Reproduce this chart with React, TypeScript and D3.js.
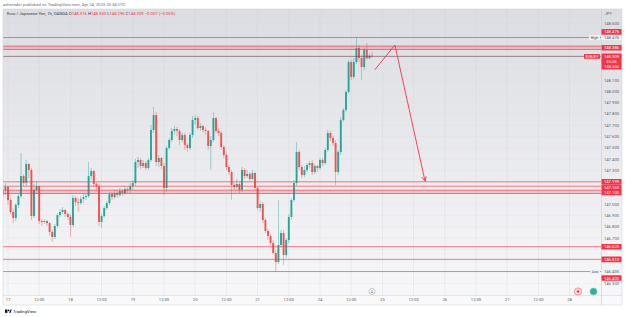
import React from "react";
import * as d3 from "d3";

// EURJPY 1h (OANDA). Bar 0 = Sun 16 Apr 22:00 UTC, one bar per hour, weekend gap removed
const firstOpen = 147.082;
const highs = [
  147.171, 147.188, 147.162, 147.056, 146.967, 147.011, 147.091, 147.454, 147.268, 147.392,
  147.365, 147.321, 147.18, 147.206, 147.162, 146.87, 146.87, 146.861, 146.843, 146.773,
  146.826, 146.923, 146.958, 146.976, 146.958, 146.932, 146.905, 147.082, 147.073, 147.056,
  147.073, 147.091, 147.1, 147.374, 147.321, 147.304, 147.197, 147.18, 146.914, 146.985,
  147.029, 147.109, 147.109, 147.127, 147.118, 147.144, 147.135, 147.162, 147.153, 147.188,
  147.215, 147.401, 147.419, 147.41, 147.392, 147.383, 147.41, 147.702, 147.861, 147.817,
  147.436, 147.419, 147.365, 147.516, 147.587, 147.675, 147.693, 147.684, 147.666, 147.631,
  147.631, 147.543, 147.631, 147.781, 147.79, 147.781, 147.719, 147.702, 147.684, 147.658,
  147.604, 147.817, 147.775, 147.675, 147.649, 147.525, 147.454, 147.348, 147.304, 147.188,
  147.224, 147.197, 147.33, 147.321, 147.304, 147.286, 147.304, 147.286, 147.162, 147.029,
  147.02, 146.879, 146.781, 146.737, 146.684, 146.596, 147.038, 146.773, 146.773, 146.702,
  146.914, 147.056, 147.215, 147.551, 147.481, 147.348, 147.339, 147.365, 147.383, 147.392,
  147.357, 147.348, 147.41, 147.41, 147.498, 147.658, 147.649, 147.604, 147.569, 147.481,
  147.773, 147.852, 148.012, 148.277, 148.277, 148.295, 148.476, 148.41, 148.321, 148.383,
  148.427, 148.335, 148.35,
];
const lows = [
  147.056, 147.082, 146.994, 146.914, 146.834, 146.852, 146.967, 147.056, 147.162, 147.162,
  147.233, 146.861, 146.879, 147.091, 146.826, 146.808, 146.826, 146.808, 146.719, 146.666,
  146.693, 146.79, 146.888, 146.914, 146.888, 146.861, 146.711, 146.799, 146.985, 146.932,
  146.994, 147.011, 147.038, 147.056, 147.215, 147.153, 147.127, 146.808, 146.79, 146.879,
  146.95, 146.994, 147.038, 147.047, 147.056, 147.064, 147.073, 147.082, 147.1, 147.1,
  147.127, 147.162, 147.321, 147.312, 147.321, 147.304, 147.304, 147.374, 147.631, 147.339,
  147.33, 147.312, 147.082, 147.109, 147.481, 147.551, 147.613, 147.604, 147.525, 147.551,
  147.481, 147.463, 147.481, 147.587, 147.702, 147.658, 147.649, 147.631, 147.613, 147.481,
  147.304, 147.551, 147.631, 147.604, 147.481, 147.41, 147.304, 147.259, 147.038, 147.127,
  147.127, 147.1, 147.109, 147.224, 147.233, 147.206, 147.215, 147.127, 146.95, 146.932,
  146.834, 146.746, 146.684, 146.64, 146.551, 146.405, 146.471, 146.614, 146.463, 146.525,
  146.658, 146.861, 147.02, 147.162, 147.304, 147.233, 147.241, 147.286, 147.321, 147.259,
  147.268, 147.286, 147.304, 147.339, 147.348, 147.463, 147.56, 147.516, 147.171, 147.259,
  147.436, 147.728, 147.817, 147.976, 148.1, 148.109, 148.242, 148.259, 148.1, 148.189,
  148.28, 148.285, 148.296,
];
const closes = [
  147.127, 147.153, 147.038, 146.932, 146.879, 146.994, 147.073, 147.25, 147.188, 147.357,
  147.304, 146.896, 147.127, 147.162, 146.852, 146.843, 146.852, 146.834, 146.755, 146.711,
  146.808, 146.905, 146.932, 146.95, 146.914, 146.888, 146.817, 147.056, 147.02, 147.011,
  147.047, 147.064, 147.073, 147.25, 147.295, 147.18, 147.162, 146.843, 146.896, 146.967,
  147.011, 147.091, 147.064, 147.1, 147.082, 147.118, 147.1, 147.135, 147.127, 147.162,
  147.188, 147.374, 147.392, 147.339, 147.365, 147.321, 147.392, 147.658, 147.79, 147.374,
  147.41, 147.339, 147.144, 147.498, 147.569, 147.649, 147.666, 147.649, 147.569, 147.613,
  147.525, 147.498, 147.613, 147.746, 147.764, 147.675, 147.693, 147.658, 147.649, 147.516,
  147.569, 147.764, 147.649, 147.631, 147.507, 147.436, 147.33, 147.286, 147.171, 147.153,
  147.18, 147.127, 147.304, 147.25, 147.268, 147.224, 147.277, 147.144, 146.967, 147.003,
  146.861, 146.764, 146.719, 146.658, 146.569, 146.489, 146.64, 146.746, 146.551, 146.684,
  146.888, 147.038, 147.188, 147.463, 147.33, 147.259, 147.304, 147.348, 147.365, 147.286,
  147.339, 147.321, 147.392, 147.365, 147.481, 147.631, 147.587, 147.543, 147.286, 147.463,
  147.746, 147.835, 147.994, 148.259, 148.127, 148.259, 148.383, 148.295, 148.215, 148.366,
  148.292, 148.316, 148.309,
];

// time axis: bar index -> label
const timeTickIdx = [2, 14, 26, 38, 50, 62, 74, 86, 98, 110, 122, 134, 146, 158, 170, 182, 194, 206, 218];
const timeTickText = ["17", "12:00", "18", "12:00", "19", "12:00", "20", "12:00", "21", "12:00",
  "24", "12:00", "25", "12:00", "26", "12:00", "27", "12:00", "28"];

const priceTicks = [148.6, 148.5, 148.4, 148.3, 148.2, 148.1, 148.0, 147.9, 147.8, 147.7, 147.6,
  147.5, 147.4, 147.3, 147.2, 147.1, 147.0, 146.9, 146.8, 146.7, 146.6, 146.5, 146.4, 146.3];

// horizontal lines drawn on the chart
const levelLines = [148.476, 148.4, 148.37, 147.199, 147.16, 147.125, 147.095, 146.625, 146.513, 146.405];
const levelBands = [[148.37, 148.4], [147.095, 147.125]];
const levelLabels = [148.476, 148.386, 147.199, 147.16, 147.105, 146.625, 146.513, 146.405];
const lastPrice = 148.309;
const extraPrice = 148.302;
const highPrice = 148.476;
const lowPrice = 146.405;

// arrow drawing: [bar index, price]
const arrowPts = [[143.1, 148.19], [150.8, 148.41], [162.4, 147.205]];

const W = 625, H = 317;
const RED = "#f23645", UP = "#26a69a", DOWN = "#ef5350";
const FONT = "Roboto, 'Liberation Sans', sans-serif";

export default function App() {
  const plot = { left: 3, right: 601, top: 9, bottom: 295 };
  const axisRight = 622, axisBottom = 305;
  const x = d3.scaleLinear().domain([0, 230]).range([2.8, 600.8]);
  const y = d3.scaleLinear().domain([146.3, 148.6]).range([283.4, 23.5]);
  const bw = 1.9;

  const bars = closes.map((c, i) => ({
    i, o: i === 0 ? firstOpen : closes[i - 1], h: highs[i], l: lows[i], c,
  }));

  // label nudges (px) where TradingView pushed labels apart
  const nudge: Record<number, number> = { 148.476: -5.6, 147.16: 1, 146.405: 6.5 };
  const labelYs = levelLabels.map((v) => y(v) + (nudge[v] || 0));
  const occupied = [...labelYs, y(highPrice), y(lowPrice), 56.4, 61.5, 66.7];
  const visibleTicks = priceTicks.filter((p) => occupied.every((oy) => Math.abs(oy - y(p)) > 3.5));

  const line = d3.line<number[]>().x((d) => x(d[0])).y((d) => y(d[1]));
  const a0 = arrowPts[arrowPts.length - 2], a1 = arrowPts[arrowPts.length - 1];
  const tipX = x(a1[0]), tipY = y(a1[1]);
  const ang = Math.atan2(tipY - y(a0[1]), tipX - x(a0[0]));
  const wing = (s: number) =>
    `M${tipX - 5 * Math.cos(ang + s)},${tipY - 5 * Math.sin(ang + s)}L${tipX},${tipY}`;

  const axisLabel = (cy: number, text: string, key: string, h = 5.6) => (
    <g key={key}>
      <rect x={plot.right + 0.5} y={cy - h / 2} width={20} height={h} fill={RED} rx={0.6} />
      <text x={plot.right + 10.5} y={cy + 1.5} fontSize={4.2} fill="#fff" textAnchor="middle">{text}</text>
    </g>
  );

  return (
    <svg width={W} height={H} style={{ position: "fixed", left: 0, top: 0, fontFamily: FONT }}>
      <defs>
        <linearGradient id="bg" x1="0" y1="0" x2="0" y2="1">
          <stop offset="0" stopColor="#dcdde2" />
          <stop offset="1" stopColor="#f8f8fa" />
        </linearGradient>
        <clipPath id="clip">
          <rect x={plot.left} y={plot.top} width={plot.right - plot.left} height={plot.bottom - plot.top} />
        </clipPath>
      </defs>
      <rect width={W} height={H} fill="#fff" />
      <text x={3} y={5.6} fontSize={4.2} fill="#6a6d78">
        azhertahir published on TradingView.com, Apr 24, 2023 20:34 UTC
      </text>

      <rect x={plot.left} y={plot.top} width={axisRight - plot.left} height={axisBottom - plot.top} fill="url(#bg)" />
      <rect x={plot.left} y={plot.bottom} width={axisRight - plot.left} height={axisBottom - plot.bottom} fill="#f9f9fa" opacity={0.8} />

      {/* grid */}
      <g clipPath="url(#clip)">
        {timeTickIdx.map((t) => (
          <line key={"v" + t} x1={x(t)} x2={x(t)} y1={plot.top} y2={plot.bottom} stroke="#cfd0d6" strokeWidth={0.5} opacity={0.6} />
        ))}
        {priceTicks.map((p) => (
          <line key={"h" + p} x1={plot.left} x2={plot.right} y1={y(p)} y2={y(p)} stroke="#cfd0d6" strokeWidth={0.5} strokeDasharray="1 1" opacity={0.6} />
        ))}
      </g>

      {/* candles */}
      <g clipPath="url(#clip)">
        {bars.map((b) => {
          const col = b.c >= b.o ? UP : DOWN;
          const top = y(Math.max(b.o, b.c)), bot = y(Math.min(b.o, b.c));
          return (
            <g key={b.i}>
              <line x1={x(b.i)} x2={x(b.i)} y1={y(b.h)} y2={y(b.l)} stroke={col} strokeWidth={0.6} opacity={0.75} />
              <rect x={x(b.i) - bw / 2} y={top} width={bw} height={Math.max(0.6, bot - top)} fill={col} />
            </g>
          );
        })}
      </g>

      {/* horizontal levels */}
      <g clipPath="url(#clip)">
        {levelBands.map(([a, b]) => (
          <rect key={"b" + a} x={plot.left} width={plot.right - plot.left} y={y(b)} height={y(a) - y(b)} fill={RED} opacity={0.22} />
        ))}
        {levelLines.map((p) => (
          <line key={"l" + p} x1={plot.left} x2={plot.right} y1={y(p)} y2={y(p)} stroke={RED} strokeWidth={0.8} opacity={0.8} />
        ))}
        <line x1={plot.left} x2={plot.right} y1={y(lastPrice)} y2={y(lastPrice)} stroke="#6e3f4a" strokeWidth={0.6} />
        <path d={line(arrowPts) || ""} fill="none" stroke={RED} strokeWidth={0.9} />
        <path d={wing(0.45) + wing(-0.45)} fill="none" stroke={RED} strokeWidth={0.9} />
      </g>

      {/* chart legend */}
      <text x={7} y={15.4} fontSize={4.2} fill="#3b3e48">
        Euro / Japanese Yen, 1h, OANDA{"  "}
        <tspan>O</tspan><tspan fill={RED}>148.316 </tspan>
        <tspan>H</tspan><tspan fill={RED}>148.350 </tspan>
        <tspan>L</tspan><tspan fill={RED}>148.296 </tspan>
        <tspan>C</tspan><tspan fill={RED}>148.309 −0.007 (−0.00%)</tspan>
      </text>

      {/* axis borders */}
      <line x1={plot.right + 0.5} x2={plot.right + 0.5} y1={plot.top} y2={axisBottom} stroke="#c8c9cf" strokeWidth={0.6} />
      <line x1={plot.left} x2={axisRight} y1={plot.bottom + 0.5} y2={plot.bottom + 0.5} stroke="#d4d5da" strokeWidth={0.6} />
      <rect x={plot.left} y={plot.top} width={axisRight - plot.left} height={axisBottom - plot.top} fill="none" stroke="#d4d5da" strokeWidth={0.6} />

      {/* price axis */}
      <text x={605} y={14.5} fontSize={3.8} fill="#5d606b">JPY</text>
      {visibleTicks.map((p) => (
        <text key={"t" + p} x={plot.right + 10.5} y={y(p) + 1.5} fontSize={4.2} fill="#5d606b" textAnchor="middle">
          {p.toFixed(3)}
        </text>
      ))}
      {levelLabels.map((v, k) => axisLabel(labelYs[k], v.toFixed(3), "r" + v))}

      {/* high / low tags */}
      <rect x={589} y={y(highPrice) - 2.4} width={11} height={4.8} fill="#f2f2f4" rx={0.6} />
      <text x={594.5} y={y(highPrice) + 1.3} fontSize={3.6} fill="#3b3e48" textAnchor="middle">High</text>
      <rect x={plot.right + 0.5} y={y(highPrice) - 2.6} width={20} height={5.2} fill="#f2f2f4" />
      <text x={plot.right + 10.5} y={y(highPrice) + 1.5} fontSize={4.2} fill="#5d606b" textAnchor="middle">{highPrice.toFixed(3)}</text>
      <rect x={590} y={y(lowPrice) - 2.4} width={10} height={4.8} fill="#f2f2f4" rx={0.6} />
      <text x={595} y={y(lowPrice) + 1.3} fontSize={3.6} fill="#3b3e48" textAnchor="middle">Low</text>
      <rect x={plot.right + 0.5} y={y(lowPrice) - 2.6} width={20} height={5.2} fill="#f2f2f4" />
      <text x={plot.right + 10.5} y={y(lowPrice) + 1.5} fontSize={4.2} fill="#5d606b" textAnchor="middle">{lowPrice.toFixed(3)}</text>

      {/* last price */}
      <rect x={584} y={y(lastPrice) - 2.4} width={16} height={4.8} fill={RED} rx={0.6} />
      <text x={592} y={y(lastPrice) + 1.3} fontSize={3.5} fill="#fff" textAnchor="middle">EURJPY</text>
      <rect x={plot.right + 0.5} y={y(lastPrice) - 2.9} width={20} height={10.6} fill={RED} rx={0.6} />
      <text x={plot.right + 10.5} y={y(lastPrice) + 1.5} fontSize={4.2} fill="#fff" textAnchor="middle">{lastPrice.toFixed(3)}</text>
      <text x={plot.right + 10.5} y={y(lastPrice) + 6.5} fontSize={4.2} fill="#fff" textAnchor="middle">25:26</text>
      {axisLabel(y(lastPrice) + 10.3, extraPrice.toFixed(3), "extra")}

      {/* time axis */}
      {timeTickIdx.map((t, k) => (
        <text key={"x" + t} x={x(t)} y={301} fontSize={4.2} fill="#5d606b" textAnchor="middle">{timeTickText[k]}</text>
      ))}

      {/* markers on the chart bottom */}
      <circle cx={x(142)} cy={291.5} r={3} fill="#fff" stroke="#8a8d96" strokeWidth={0.5} />
      <text x={x(142)} y={293} fontSize={3.6} fill="#5d606b" textAnchor="middle">A</text>
      <circle cx={578} cy={291.5} r={3.6} fill="#fde3e5" stroke={RED} strokeWidth={0.5} />
      <circle cx={578} cy={291.5} r={1.3} fill={RED} />
      <circle cx={593.5} cy={291.5} r={3.6} fill="#2bb39b" stroke="#8fd6c9" strokeWidth={0.6} />

      {/* logo */}
      <g transform="translate(5,309.5)">
        <rect x={0} y={0} width={2.4} height={3.4} fill="#131722" />
        <circle cx={3.6} cy={0.9} r={0.9} fill="#131722" />
        <path d="M4.2,3.4 L5.6,0 L6.8,0 L5.4,3.4 Z" fill="#131722" />
      </g>
      <text x={13} y={313} fontSize={4.2} fill="#131722">TradingView</text>
    </svg>
  );
}
